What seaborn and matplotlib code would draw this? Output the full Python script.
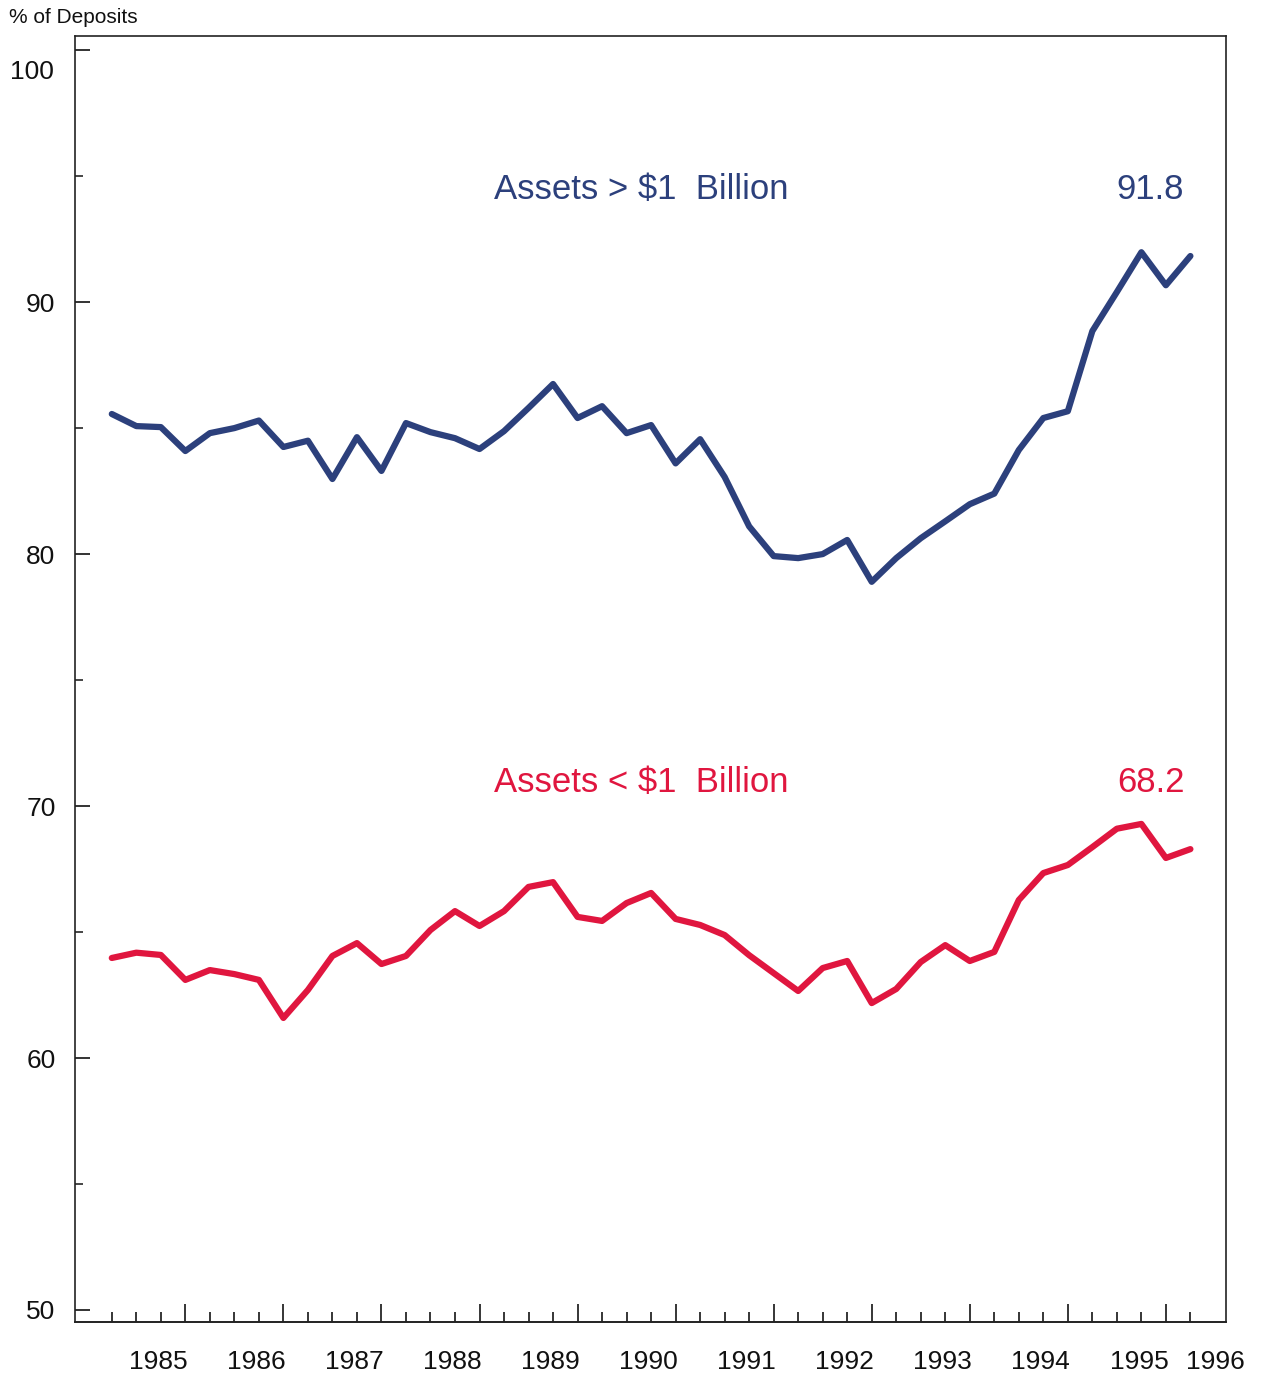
import numpy as np
import pandas as pd
import matplotlib
matplotlib.use("Agg")
import matplotlib.pyplot as plt
import seaborn as sns

# quarterly observations, 1985Q1 .. 1996Q1
quarters = pd.period_range("1985Q1", "1996Q1", freq="Q").astype(str).tolist()

large_banks = [85.56, 85.08, 85.04, 84.09, 84.80, 85.00, 85.30, 84.25, 84.50, 82.98,
               84.64, 83.30, 85.20, 84.84, 84.60, 84.17, 84.88, 85.80, 86.75, 85.40,
               85.87, 84.80, 85.12, 83.60, 84.56, 83.06, 81.10, 79.92, 79.84, 80.00,
               80.56, 78.90, 79.84, 80.63, 81.30, 81.98, 82.40, 84.13, 85.40, 85.67,
               88.85, 90.40, 91.98, 90.67, 91.83]

small_banks = [63.97, 64.18, 64.09, 63.10, 63.49, 63.33, 63.10, 61.59, 62.70, 64.05,
               64.56, 63.73, 64.05, 65.08, 65.83, 65.24, 65.83, 66.79, 66.98, 65.60,
               65.44, 66.15, 66.55, 65.52, 65.28, 64.88, 64.08, 63.37, 62.66, 63.57,
               63.85, 62.18, 62.74, 63.81, 64.48, 63.85, 64.21, 66.27, 67.34, 67.66,
               68.37, 69.10, 69.29, 67.94, 68.29]

series_names = ["Assets > $1  Billion", "Assets < $1  Billion"]
last_labels = ["91.8", "68.2"]
colors = ["#2c407c", "#e0163f"]
year_labels = [str(y) for y in range(1985, 1997)]
y_labels = ["50", "60", "70", "80", "90", "100"]

df = pd.DataFrame({
    "q": list(range(len(quarters))) * 2,
    "value": large_banks + small_banks,
    "series": [series_names[0]] * len(quarters) + [series_names[1]] * len(quarters),
})

sns.set_style("ticks")
plt.rcParams["font.family"] = ["Liberation Sans", "DejaVu Sans"]

fig = plt.figure(figsize=(12.61, 13.76), dpi=100)
ax = fig.add_axes([0.0595, 0.0392, 0.9127, 0.9346])

sns.lineplot(data=df, x="q", y="value", hue="series", palette=colors,
             linewidth=4.5, legend=False, ax=ax)

ax.set_xlim(-1.5, 45.45)
ax.set_ylim(49.52, 100.56)
ax.set_xlabel("")
ax.set_ylabel("")

for s in ax.spines.values():
    s.set_visible(True)
    s.set_linewidth(1.2)
    s.set_color("#222222")

# y axis: labelled every 10, minor every 5, ticks pointing inward
ax.set_yticks(range(50, 101, 10), y_labels[:-1] + [""])
ax.set_yticks(range(55, 100, 10), minor=True)
ax.tick_params(axis="y", which="major", direction="in", length=11, width=1.2,
               pad=14, labelsize=19, colors="#111111")
ax.tick_params(axis="y", which="minor", direction="in", length=6, width=1.2)
# the top label sits a little below its tick in the original
ax.text(-0.018, 0.972, y_labels[-1], transform=ax.transAxes, ha="right",
        va="center", fontsize=19, color="#111111")

# x axis: year labels only (no marks) on the main axis
n = len(quarters)
label_pos = [4 * k + 1.9 for k in range(len(year_labels) - 1)] + [n + 0.0]
ax.set_xticks(label_pos, year_labels)
ax.tick_params(axis="x", which="major", length=0, pad=20, labelsize=19,
               colors="#111111")

# quarter tick marks, with longer marks at each fourth quarter
sec = ax.secondary_xaxis("bottom")
sec.set_xticks([i for i in range(n) if i % 4 == 3])
sec.set_xticks(range(n), minor=True)
sec.set_xticklabels([])
sec.tick_params(axis="x", which="major", direction="in", length=13, width=1.3)
sec.tick_params(axis="x", which="minor", direction="in", length=7, width=1.3)
sec.spines["bottom"].set_linewidth(1.2)

# series labels and last values
for name, last, col, ypos in zip(series_names, last_labels, colors, [94.45, 70.95]):
    ax.text(15.6, ypos, name, color=col, fontsize=25, ha="left", va="center")
    ax.text(43.75, ypos, last, color=col, fontsize=25, ha="right", va="center")

fig.text(0.007, 0.987, "% of Deposits", fontsize=15, ha="left", va="center",
         color="#111111")

fig.savefig("out.png", dpi=100, facecolor="white")
